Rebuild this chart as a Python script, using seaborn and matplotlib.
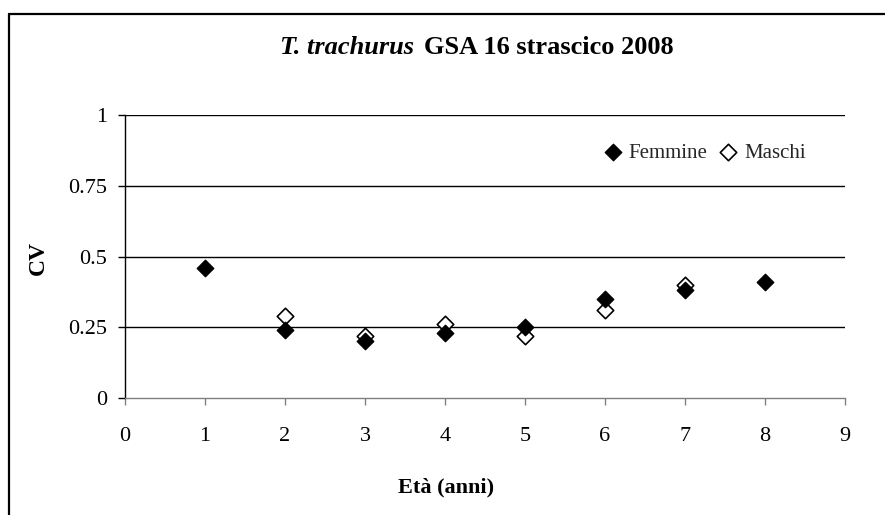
import matplotlib
matplotlib.use("Agg")
import matplotlib.pyplot as plt
from matplotlib.lines import Line2D
import seaborn as sns
import pandas as pd

# Age classes and coefficient of variation by sex
eta_femmine = [1, 2, 3, 4, 5, 6, 7, 8]
cv_femmine = [0.46, 0.24, 0.20, 0.23, 0.25, 0.35, 0.38, 0.41]
eta_maschi = [2, 3, 4, 5, 6, 7]
cv_maschi = [0.29, 0.22, 0.26, 0.22, 0.31, 0.40]

x_ticks = [0, 1, 2, 3, 4, 5, 6, 7, 8, 9]
y_ticks = [0, 0.25, 0.5, 0.75, 1]
y_ticklabels = ["0", "0.25", "0.5", "0.75", "1"]

df_f = pd.DataFrame({"eta": eta_femmine, "cv": cv_femmine})
df_m = pd.DataFrame({"eta": eta_maschi, "cv": cv_maschi})

sns.set_theme(style="white")
plt.rcParams["font.family"] = ["Liberation Serif", "DejaVu Serif"]

fig = plt.figure(figsize=(8.85, 5.15), dpi=100)
ax = fig.add_axes([125 / 885, 1 - 398 / 515, 720 / 885, 283 / 515])

sns.scatterplot(data=df_f, x="eta", y="cv", marker="D", s=70, color="black",
                edgecolor="black", linewidth=1, ax=ax, zorder=4, label="Femmine")
sns.scatterplot(data=df_m, x="eta", y="cv", marker="D", s=70, color="white",
                edgecolor="black", linewidth=1.2, ax=ax, zorder=3, label="Maschi")

ax.set_xlim(0, 9)
ax.set_ylim(0, 1)
ax.set_xticks(x_ticks)
ax.set_xticklabels([str(t) for t in x_ticks])
ax.set_yticks(y_ticks)
ax.set_yticklabels(y_ticklabels)

for v in y_ticks[1:]:
    ax.axhline(v, color="black", lw=1.0, zorder=1)

for side in ("top", "right"):
    ax.spines[side].set_visible(False)
ax.spines["left"].set_color("black")
ax.spines["left"].set_linewidth(1.0)
ax.spines["bottom"].set_color("#808080")
ax.spines["bottom"].set_linewidth(1.0)

ax.tick_params(axis="y", direction="out", length=5, width=1, color="black",
               pad=8, labelsize=16, labelcolor="black", left=True)
ax.tick_params(axis="x", direction="out", length=5, width=1, color="#808080",
               pad=16, labelsize=16, labelcolor="black", bottom=True)

ax.set_xlabel("Età (anni)", fontsize=16, fontweight="bold", color="black", va="center")
ax.set_ylabel("CV", fontsize=17, fontweight="bold", color="black", va="center")
ax.xaxis.set_label_coords((446 - 125) / 720, (398 - 487) / 283)
ax.yaxis.set_label_coords((38 - 125) / 720, (398 - 258) / 283)

leg = ax.legend(loc="center right", bbox_to_anchor=((814 - 125) / 720, (398 - 153) / 283),
                frameon=False, ncol=2, fontsize=15, handletextpad=0.25,
                columnspacing=0.5, handlelength=1.0, borderaxespad=0)

# Title: italic species name followed by bold text
fig.text(414 / 885, 1 - 48 / 515, "T. trachurus", fontsize=19, fontweight="bold",
         fontstyle="italic", ha="right", va="center", color="black")
fig.text(424 / 885, 1 - 48 / 515, "GSA 16 strascico 2008", fontsize=19,
         fontweight="bold", ha="left", va="center", color="black")

# Frame around the chart area (left and top edges)
fig.add_artist(Line2D([8.5 / 885, 8.5 / 885], [0, 1 - 13.5 / 515], color="black", lw=1.6,
                      transform=fig.transFigure))
fig.add_artist(Line2D([8.5 / 885, 1], [1 - 13.5 / 515, 1 - 13.5 / 515], color="black", lw=1.6,
                      transform=fig.transFigure))

fig.savefig("out.png", dpi=100, facecolor="white")
